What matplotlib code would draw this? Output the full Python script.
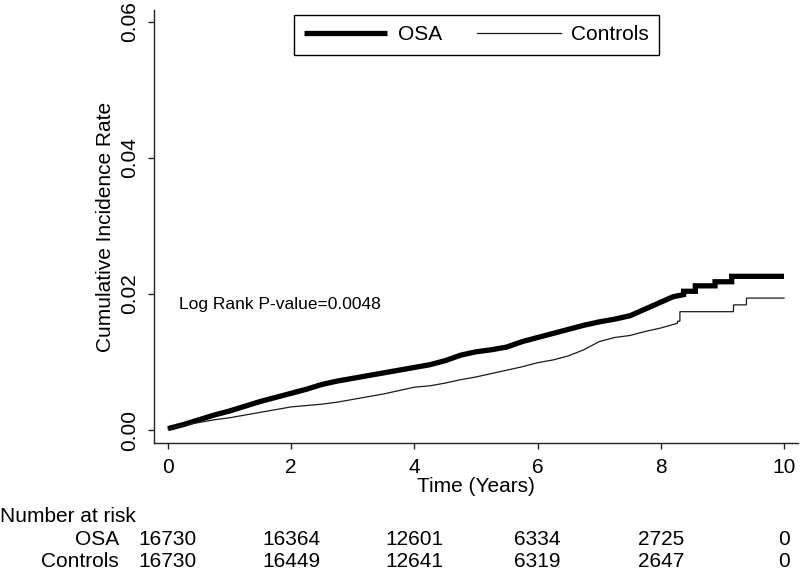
import numpy as np
import matplotlib
matplotlib.use("Agg")
import matplotlib.pyplot as plt
import matplotlib.transforms as mtransforms

plt.rcParams['font.family'] = ['Liberation Sans', 'DejaVu Sans']

# cumulative incidence (time in years, rate)
# repeated times are the visible vertical jumps near the end
osa_t = [0.0, 0.25, 0.5, 0.75, 1.0, 1.25, 1.5, 1.75, 2.0, 2.25, 2.5, 2.75,
         3.0, 3.25, 3.5, 3.75, 4.0, 4.25, 4.5, 4.75, 5.0, 5.25, 5.5, 5.75,
         6.0, 6.25, 6.5, 6.75, 7.0, 7.25, 7.5, 7.75, 8.0, 8.2, 8.37, 8.37,
         8.56, 8.56, 8.88, 8.88, 9.15, 9.15, 10.0]
osa_v = [0.0002, 0.0008, 0.0015, 0.0022, 0.0028, 0.0035, 0.0042, 0.0048,
         0.0054, 0.0060, 0.0067, 0.0072, 0.0076, 0.0080, 0.0084, 0.0088,
         0.0092, 0.0096, 0.0102, 0.0110, 0.0115, 0.0118, 0.0122, 0.0130,
         0.0136, 0.0142, 0.0148, 0.0154, 0.0159, 0.0163, 0.0168, 0.0178,
         0.0188, 0.0196, 0.0199, 0.0204, 0.0204, 0.0212, 0.0212, 0.0218,
         0.0218, 0.0226, 0.0226]

ctl_t = [0.0, 0.25, 0.5, 0.75, 1.0, 1.25, 1.5, 1.75, 2.0, 2.25, 2.5, 2.75,
         3.0, 3.25, 3.5, 3.75, 4.0, 4.25, 4.5, 4.75, 5.0, 5.25, 5.5, 5.75,
         6.0, 6.25, 6.5, 6.75, 7.0, 7.25, 7.5, 7.75, 8.0, 8.27, 8.27, 8.31,
         8.31, 9.18, 9.18, 9.39, 9.39, 10.0]
ctl_v = [0.0002, 0.0007, 0.0011, 0.0015, 0.0018, 0.0022, 0.0026, 0.0030,
         0.0034, 0.0036, 0.0038, 0.0041, 0.0045, 0.0049, 0.0053, 0.0058,
         0.0063, 0.0065, 0.0069, 0.0074, 0.0078, 0.0083, 0.0088, 0.0093,
         0.0099, 0.0103, 0.0109, 0.0118, 0.0130, 0.0136, 0.0139, 0.0145,
         0.0150, 0.0157, 0.0160, 0.0160, 0.0174, 0.0174, 0.0184, 0.0184,
         0.0194, 0.0194]

# number at risk table
risk_times = [0, 2, 4, 6, 8, 10]
risk_osa = [16730, 16364, 12601, 6334, 2725, 0]
risk_ctl = [16730, 16449, 12641, 6319, 2647, 0]

x_ticks = [0, 2, 4, 6, 8, 10]
y_ticks = [0.00, 0.02, 0.04, 0.06]

fig = plt.figure(figsize=(8, 5.72), dpi=100)
ax = fig.add_axes([154 / 800, 1 - 443 / 572, 644 / 800, 433 / 572])

ax.plot(osa_t, osa_v, color='black', lw=3.8, label='OSA',
        solid_capstyle='butt', solid_joinstyle='miter')
ax.plot(ctl_t, ctl_v, color='#1a1a1a', lw=0.9, label='Controls',
        solid_joinstyle='miter')

ax.set_xlim(-0.227, 10.227)
ax.set_ylim(-0.00191, 0.06176)
ax.set_xticks(x_ticks)
ax.set_yticks(y_ticks)
ax.set_yticklabels(['%.2f' % v for v in y_ticks], rotation=90, va='center')

for side in ['top', 'right']:
    ax.spines[side].set_visible(False)
for side in ['left', 'bottom']:
    ax.spines[side].set_linewidth(1.0)
    ax.spines[side].set_color('#222222')
ax.tick_params(axis='both', direction='out', length=4, width=1,
               color='#222222', labelsize=15, pad=7)

ax.set_xlabel('Time (Years)', fontsize=15)
ax.xaxis.set_label_coords(0.5, -0.078)
ax.set_ylabel('Cumulative Incidence Rate', fontsize=15)
ax.yaxis.set_label_coords(-0.061, 0.5)

ax.text(0.18, 0.0184, 'Log Rank P-value=0.0048', fontsize=12.5,
        va='center', ha='left')

leg = ax.legend(loc='upper center', bbox_to_anchor=(476.5 / 800, 1 - 15 / 572),
                bbox_transform=fig.transFigure, ncol=2, fontsize=15,
                frameon=True, fancybox=False, framealpha=1, edgecolor='black',
                handlelength=4.0, handletextpad=0.5, columnspacing=1.7,
                borderpad=0.5, borderaxespad=0)
leg.get_frame().set_linewidth(1.0)

# number at risk below the axis
trans = mtransforms.blended_transform_factory(ax.transData, fig.transFigure)
fig.text(0.0, 1 - 522 / 572, 'Number at risk', fontsize=15, va='baseline')
fig.text(119 / 800, 1 - 545 / 572, 'OSA', fontsize=15, ha='right', va='baseline')
fig.text(119 / 800, 1 - 567 / 572, 'Controls', fontsize=15, ha='right',
         va='baseline')
for t, a, b in zip(risk_times, risk_osa, risk_ctl):
    ax.text(t, 1 - 545 / 572, str(a), transform=trans, fontsize=15,
            ha='center', va='baseline', clip_on=False)
    ax.text(t, 1 - 567 / 572, str(b), transform=trans, fontsize=15,
            ha='center', va='baseline', clip_on=False)

fig.savefig('out.png', dpi=100)
